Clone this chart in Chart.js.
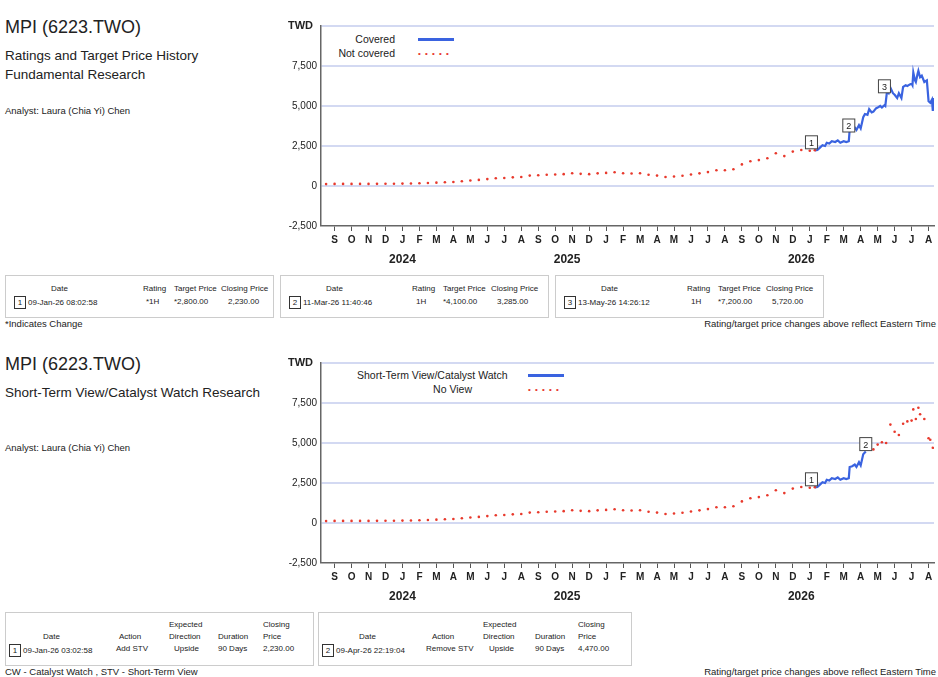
<!DOCTYPE html>
<html>
<head>
<meta charset="utf-8">
<script src="https://cdn.jsdelivr.net/npm/chart.js@4.4.1/dist/chart.umd.min.js"></script>
<style>
  body { margin: 0; width: 938px; height: 677px; background: #fff; position: relative; overflow: hidden;
         font-family: "Liberation Sans Narrow", "Liberation Sans", Arial, sans-serif; color: #222; }
  .abs { position: absolute; white-space: nowrap; }
  .title { font-size: 18px; }
  .sub { font-size: 13.5px; line-height: 19px; }
  .small { font-size: 9.5px; }
  .box { position: absolute; border: 1px solid #ccc; font-size: 8px; }
  .box div { position: absolute; white-space: nowrap; }
  .num { display: inline-block; border: 1px solid #333; width: 10px; height: 11px; font-size: 8px; text-align: center; line-height: 11px; margin-right: 2px; }
  .legtxt { font-size: 10.5px; text-align: right; width: 120px; }
  canvas { position: absolute; }
</style>
</head>
<body>
<div class="abs title" style="left:5px;top:17px">MPI (6223.TWO)</div>
<div class="abs sub" style="left:5px;top:46px">Ratings and Target Price History<br>Fundamental Research</div>
<div class="abs small" style="left:5px;top:105px">Analyst: Laura (Chia Yi) Chen</div>

<div class="abs legtxt" style="left:275px;top:33px">Covered</div>
<div class="abs" style="left:418px;top:38px;width:36px;height:3px;background:#3a63e0"></div>
<div class="abs legtxt" style="left:275px;top:47px">Not covered</div>
<div class="abs" style="left:418px;top:49px;color:#e8392c;font-size:8px;letter-spacing:1px">• • • • •</div>

<div class="box" style="left:5px;top:275px;width:267px;height:41px">
  <div style="left:45px;top:8px">Date</div>
  <div style="left:8px;top:20px"><span class="num">1</span>09-Jan-26 08:02:58</div>
  <div style="left:137px;top:8px">Rating</div><div style="left:140px;top:21px">*1H</div>
  <div style="left:168px;top:8px">Target Price</div><div style="left:168px;top:21px">*2,800.00</div>
  <div style="left:215px;top:8px">Closing Price</div><div style="left:222px;top:21px">2,230.00</div>
</div>
<div class="box" style="left:280px;top:275px;width:267px;height:41px">
  <div style="left:45px;top:8px">Date</div>
  <div style="left:8px;top:20px"><span class="num">2</span>11-Mar-26 11:40:46</div>
  <div style="left:131px;top:8px">Rating</div><div style="left:135px;top:21px">1H</div>
  <div style="left:162px;top:8px">Target Price</div><div style="left:162px;top:21px">*4,100.00</div>
  <div style="left:210px;top:8px">Closing Price</div><div style="left:216px;top:21px">3,285.00</div>
</div>
<div class="box" style="left:555px;top:275px;width:267px;height:41px">
  <div style="left:45px;top:8px">Date</div>
  <div style="left:8px;top:20px"><span class="num">3</span>13-May-26 14:26:12</div>
  <div style="left:131px;top:8px">Rating</div><div style="left:135px;top:21px">1H</div>
  <div style="left:162px;top:8px">Target Price</div><div style="left:162px;top:21px">*7,200.00</div>
  <div style="left:210px;top:8px">Closing Price</div><div style="left:216px;top:21px">5,720.00</div>
</div>
<div class="abs small" style="left:5px;top:318px">*Indicates Change</div>
<div class="abs small" style="right:2px;top:318px">Rating/target price changes above reflect Eastern Time</div>

<div class="abs title" style="left:5px;top:354px">MPI (6223.TWO)</div>
<div class="abs sub" style="left:5px;top:383px">Short-Term View/Catalyst Watch Research</div>
<div class="abs small" style="left:5px;top:442px">Analyst: Laura (Chia Yi) Chen</div>

<div class="abs legtxt" style="left:357px;top:369px;width:120px">Short-Term View/Catalyst Watch</div>
<div class="abs" style="left:528px;top:374px;width:36px;height:3px;background:#3a63e0"></div>
<div class="abs legtxt" style="left:352px;top:383px">No View</div>
<div class="abs" style="left:528px;top:385px;color:#e8392c;font-size:8px;letter-spacing:1px">• • • • •</div>

<div class="box" style="left:5px;top:612px;width:307px;height:52px">
  <div style="left:37px;top:19px">Date</div>
  <div style="left:3px;top:31px"><span class="num">1</span>09-Jan-26 03:02:58</div>
  <div style="left:113px;top:19px">Action</div><div style="left:110px;top:31px">Add STV</div>
  <div style="left:163px;top:6px;line-height:12px">Expected<br>Direction</div><div style="left:168px;top:31px">Upside</div>
  <div style="left:212px;top:19px">Duration</div><div style="left:212px;top:31px">90 Days</div>
  <div style="left:257px;top:6px;line-height:12px">Closing<br>Price</div><div style="left:257px;top:31px">2,230.00</div>
</div>
<div class="box" style="left:318px;top:612px;width:312px;height:52px">
  <div style="left:40px;top:19px">Date</div>
  <div style="left:3px;top:31px"><span class="num">2</span>09-Apr-26 22:19:04</div>
  <div style="left:113px;top:19px">Action</div><div style="left:107px;top:31px">Remove STV</div>
  <div style="left:164px;top:6px;line-height:12px">Expected<br>Direction</div><div style="left:170px;top:31px">Upside</div>
  <div style="left:216px;top:19px">Duration</div><div style="left:216px;top:31px">90 Days</div>
  <div style="left:259px;top:6px;line-height:12px">Closing<br>Price</div><div style="left:259px;top:31px">4,470.00</div>
</div>
<div class="abs small" style="left:5px;top:666px">CW - Catalyst Watch , STV - Short-Term View</div>
<div class="abs small" style="right:2px;top:666px">Rating/target price changes above reflect Eastern Time</div>

<canvas id="top" style="left:280px;top:15px"></canvas>
<canvas id="bottom" style="left:280px;top:352px"></canvas>

<script>
// x values are months counted from Sep 2023 (0 = Sep 2023)
const monthLabels = ["S","O","N","D","J","F","M","A","M","J","J","A","S","O","N","D","J","F","M","A","M","J","J","A","S","O","N","D","J","F","M","A","M","J","J","A"];
const yearLabels = [{ text: "2024", x: 4.0 }, { text: "2025", x: 13.7 }, { text: "2026", x: 27.5 }];

const historyX = [-0.5,0,0.5,1,1.5,2,2.5,3,3.5,4,4.5,5,5.5,6,6.5,7,7.5,8,8.5,9,9.5,10,10.5,11,11.5,12,12.5,13,13.5,14,14.5,15,15.5,16,16.5,17,17.5,18,18.5,19,19.5,20,20.5,21,21.5,22,22.5,23,23.5,24,24.5,25,25.5,26,26.5,27,27.5,28,28.3];
const historyY = [120,130,130,130,130,130,135,140,140,150,160,170,190,210,230,250,300,340,380,430,480,500,540,560,650,670,700,720,740,800,760,740,790,820,860,800,780,800,700,650,560,590,640,720,790,870,980,980,1050,1350,1550,1620,1730,2050,1870,2150,2250,2200,2230];

const coveredX = [28.3,28.45,28.6,28.75,28.9,29,29.15,29.3,29.5,29.65,29.8,30,30.15,30.3,30.35,30.5,30.65,30.75,30.9,31,31.15,31.25,31.4,31.5,31.65,31.75,31.9,32,32.15,32.25,32.4,32.45,32.55,32.65,32.75,32.9,33,33.15,33.25,33.4,33.5,33.65,33.75,33.9,34,34.05,34.1,34.2,34.25,34.35,34.4,34.5,34.6,34.75,34.9,35,35.1,35.2,35.25,35.32];
const coveredY = [2230,2250,2400,2550,2500,2700,2650,2800,2750,2850,2700,2800,2750,2800,3500,3550,3650,3500,3800,3600,4300,4500,4450,4800,4600,4650,4850,4900,5000,4900,5050,5000,5900,5800,6150,5800,5700,5500,5800,5500,6200,6300,6250,6350,6400,6300,7100,6600,6500,7000,7200,6800,6900,6500,6600,5300,5200,5400,4700,5500];

const stvX = [28.3,28.45,28.6,28.75,28.9,29,29.15,29.3,29.5,29.65,29.8,30,30.15,30.3,30.35,30.5,30.65,30.75,30.9,31,31.15,31.3];
const stvY = [2230,2250,2400,2550,2500,2700,2650,2800,2750,2850,2700,2800,2750,2800,3500,3550,3650,3500,3800,3600,4300,4470];
const noViewAfterX = [31.5,31.75,32,32.25,32.5,32.75,33,33.25,33.5,33.75,34,34.1,34.25,34.4,34.5,34.75,35,35.1,35.25];
const noViewAfterY = [4800,4600,4900,5050,5000,6150,5700,5500,6200,6350,6400,7100,6500,7200,6800,6500,5300,5200,4700];

const topMarkers = [{ n: "1", x: 28.1, y: 2700 }, { n: "2", x: 30.3, y: 3750 }, { n: "3", x: 32.4, y: 6200 }];
const bottomMarkers = [{ n: "1", x: 28.1, y: 2700 }, { n: "2", x: 31.3, y: 4900 }];

function pts(xs, ys) { return xs.map((x, i) => ({ x: x, y: ys[i] })); }

const fontFam = "'Liberation Sans Narrow', 'Liberation Sans', Arial, sans-serif";
Chart.defaults.font.family = fontFam;

function makeChart(id, redData, blueData, markers) {
  const canvas = document.getElementById(id);
  canvas.width = 658; canvas.height = 260;
  canvas.style.width = "658px"; canvas.style.height = "260px";
  const extras = {
    id: "extras",
    afterDraw(chart) {
      const c = chart.ctx, xs = chart.scales.x, ys = chart.scales.y;
      c.save();
      c.fillStyle = "#222";
      c.font = "bold 11px " + fontFam;
      c.textAlign = "left";
      c.fillText("TWD", 8, 14);
      c.font = "bold 12px " + fontFam;
      c.textAlign = "center";
      yearLabels.forEach(l => c.fillText(l.text, xs.getPixelForValue(l.x), chart.chartArea.bottom + 37));
      c.font = "9px " + fontFam;
      markers.forEach(m => {
        const px = xs.getPixelForValue(m.x), py = ys.getPixelForValue(m.y);
        c.fillStyle = "#fff";
        c.fillRect(px - 6, py - 7, 12, 13);
        c.strokeStyle = "#444"; c.lineWidth = 1;
        c.strokeRect(px - 6, py - 7, 12, 13);
        c.fillStyle = "#222";
        c.fillText(m.n, px, py + 3);
      });
      c.restore();
    }
  };
  const datasets = redData.map(d => ({
    data: d, showLine: false, pointRadius: 1.3, pointBackgroundColor: "#e8392c", pointBorderWidth: 0
  }));
  blueData.forEach(d => datasets.push({
    data: d, showLine: true, borderColor: "#3a63e0", borderWidth: 2.2, pointRadius: 0, tension: 0
  }));
  return new Chart(canvas, {
    type: "scatter",
    data: { datasets: datasets },
    options: {
      responsive: false, animation: false,
      layout: { padding: { top: 11, right: 0 } },
      plugins: { legend: { display: false }, tooltip: { enabled: false } },
      scales: {
        x: {
          type: "linear", min: -0.8, max: 35.32,
          afterBuildTicks(s) { s.ticks = monthLabels.map((_, i) => ({ value: i })); },
          afterFit(s) { s.height = 49; },
          ticks: { callback: (v, i) => monthLabels[v], autoSkip: false, maxRotation: 0, color: "#222", font: { size: 10, weight: "bold" }, padding: 3 },
          grid: { drawOnChartArea: false, tickLength: 5, color: "#555" },
          border: { color: "#666", width: 1.5 }
        },
        y: {
          min: -2500, max: 10000,
          afterBuildTicks(s) { s.ticks = [-2500, 0, 2500, 5000, 7500, 10000].map(v => ({ value: v })); },
          afterFit(s) { s.width = 41; },
          ticks: { callback: v => v === 10000 ? "" : v.toLocaleString("en-US"), color: "#222", font: { size: 10 }, padding: 4 },
          grid: { drawTicks: false, lineWidth: ctx => ctx.tick && ctx.tick.value === -2500 ? 0 : 2, color: "#d3d9f2" },
          border: { color: "#666", width: 1.5 }
        }
      }
    },
    plugins: [extras]
  });
}

makeChart("top", [pts(historyX, historyY)], [pts(coveredX, coveredY)], topMarkers);
makeChart("bottom", [pts(historyX, historyY), pts(noViewAfterX, noViewAfterY)], [pts(stvX, stvY)], bottomMarkers);
</script>
</body>
</html>
